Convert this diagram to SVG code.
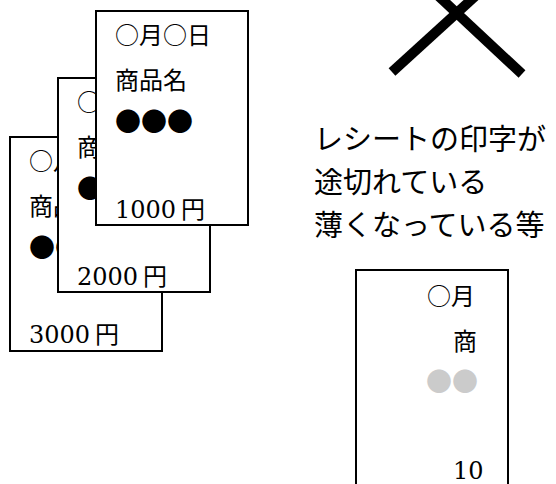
<svg xmlns="http://www.w3.org/2000/svg" width="556" height="484" viewBox="0 0 556 484">
<style>
.paper{fill:#fff;stroke:#000;stroke-width:2}
.rt{font-family:"Noto Sans CJK JP","Liberation Serif",serif;font-size:24px;fill:#000}
.num{font-family:"DejaVu Serif","Liberation Serif","Noto Sans CJK JP",serif;font-size:24px;fill:#000}
.dot{font-family:"Noto Sans CJK JP",sans-serif;font-size:26px;fill:#000}
.gdot{font-family:"Noto Sans CJK JP",sans-serif;font-size:26px;fill:#cbcbcb}
.note{font-family:"Noto Sans CJK JP",sans-serif;font-size:29px;fill:#000}
.cross{stroke:#000;stroke-width:10;fill:none}
</style>
<g id="receipt3">
<rect class="paper" x="10" y="137" width="152" height="214"/>
<text class="rt" x="29" y="170">○月</text>
<text class="rt" x="29" y="215">商品</text>
<text class="dot" x="29" y="257">●●</text>
<text class="num" x="29" y="343">3000 <tspan x="95" class="rt">円</tspan></text>
</g>
<g id="receipt2">
<rect class="paper" x="58" y="78" width="152" height="214"/>
<text class="rt" x="77" y="111">○</text>
<text class="rt" x="77" y="156">商</text>
<text class="dot" x="77" y="198">●</text>
<text class="num" x="77" y="285">2000 <tspan x="143" class="rt">円</tspan></text>
</g>
<g id="receipt1">
<rect class="paper" x="96" y="11" width="152" height="214"/>
<text class="rt" x="115" y="44">○月○日</text>
<text class="rt" x="115" y="89">商品名</text>
<text class="dot" x="115" y="131">●●●</text>
<text class="num" x="115" y="218">1000 <tspan x="181" class="rt">円</tspan></text>
</g>
<g id="cross">
<line class="cross" x1="392" y1="72" x2="482" y2="-10"/>
<line class="cross" x1="432" y1="-10" x2="522" y2="74"/>
</g>
<g id="note">
<text class="note" x="314" y="150">レシートの印字が</text>
<text class="note" x="314" y="193">途切れている</text>
<text class="note" x="314" y="236">薄くなっている等</text>
</g>
<g id="faded-receipt">
<rect class="paper" x="356" y="270" width="152" height="230"/>
<text class="rt" x="427" y="305">○月</text>
<text class="rt" x="453" y="350">商</text>
<text class="gdot" x="426" y="391">●●</text>
<text class="num" x="453" y="479">10</text>
</g>
<g id="connectors"/>
</svg>
